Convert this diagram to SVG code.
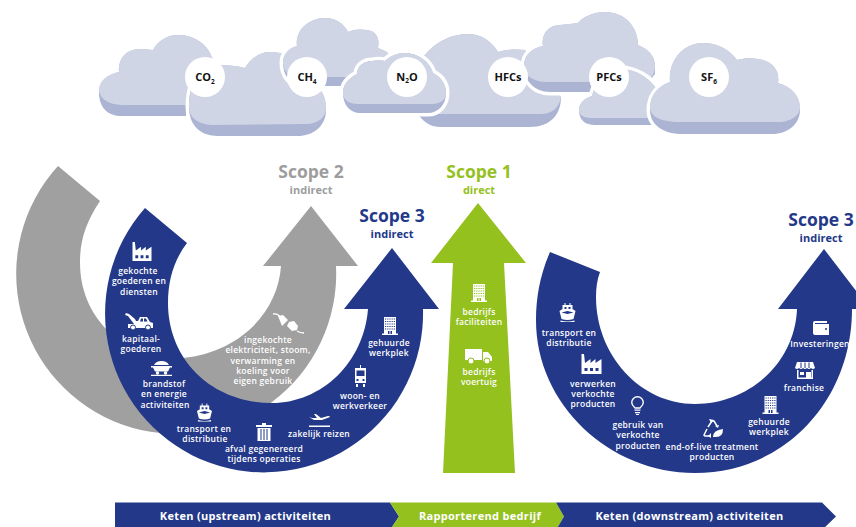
<svg xmlns="http://www.w3.org/2000/svg" width="856" height="527" viewBox="0 0 856 527">
<style>
text{font-family:"Open Sans","Noto Sans","DejaVu Sans",sans-serif;text-anchor:middle}
.l{font-size:8.500px;font-weight:600;fill:#fff;letter-spacing:.25px}
.g{font-size:11px;font-weight:700;fill:#111}
.sub{font-size:6.500px}
.sc{font-size:17.500px;font-weight:700}
.ind{font-size:11px;font-weight:700}
.bar{font-size:11px;font-weight:700;fill:#fff;letter-spacing:.32px}
.lt{fill:#d0d5e6}.dk{fill:#acb4d4}.halo{fill:#fff}
.i{color:#233889;fill:#fff}
.c{color:#95c11f}
.blue{fill:#233889}.green{fill:#95c11f}.grey{fill:#a0a0a0}
</style>
<defs>
<symbol id="factory" viewBox="0 0 20 20"><path fill="#fff" d="M0 20V0H2.500L3.500 9L9 5V9L14 5V9L20 5V20Z"/><path fill="currentColor" d="M3 14h3v3H3zM8.500 14h3v3h-3zM14 14h3v3h-3z"/></symbol>
<symbol id="building" viewBox="0 0 16 18"><path fill="#fff" d="M2 0H14V16.500H16V18H0V16.500H2Z"/><path fill="none" stroke="currentColor" stroke-width="1.100" stroke-dasharray="1.200 1" d="M3 2H13M3 4.500H13M3 7H13M3 9.500H13M3 12H13"/><path fill="currentColor" d="M6 14h1.500v3H6zM8.500 14h1.500v3H8.500z"/></symbol>
<symbol id="ship" viewBox="0 0 16 19"><path fill="#fff" d="M3 2h2V0h1v2h4V0h1v2h2V6L16 8 14 16Q8 18 2 16L0 8 3 6Z"/><path fill="#fff" d="M1 17.500Q8 19.500 15 17.500V19H1Z"/><path fill="currentColor" d="M5 4h2v2H5zM9 4h2v2H9zM8 8 2 9.500 8 11 14 9.500Z"/></symbol>
<symbol id="truck" viewBox="0 0 27 15"><path fill="#fff" d="M0 0H17V11H0ZM18 3H23L27 8V12H18Z"/><circle cx="6" cy="12" r="3" fill="#fff" stroke="currentColor"/><circle cx="22" cy="12" r="3" fill="#fff" stroke="currentColor"/></symbol>
<symbol id="tow" viewBox="0 0 28 17"><path fill="#fff" d="M1 0 4 1 10 6 11 8H13L15 4H22L25 9 28 10V15H3V11H9L3 3 0 2Z"/><circle cx="8" cy="14.500" r="2.500" fill="#fff" stroke="currentColor"/><circle cx="23" cy="14.500" r="2.500" fill="#fff" stroke="currentColor"/><path fill="currentColor" d="M16 5.500h2v3h-3zM19 5.500h2l1.500 3H19z"/></symbol>
<symbol id="coal" viewBox="0 0 21 15"><path fill="#fff" d="M3 4Q5 0 10.500 0T18 4ZM0 5H21V6.500H19L17 10.500H4L2 6.500H0ZM0 13.800H21V15H0Z"/><circle cx="6.500" cy="12" r="1.700" fill="#fff"/><circle cx="14.500" cy="12" r="1.700" fill="#fff"/></symbol>
<symbol id="trash" viewBox="0 0 16 18"><path fill="#fff" d="M6 0H10V2H16V4H0V2H6ZM1.500 5H14.500V18H1.500Z"/><path stroke="currentColor" fill="none" d="M5 6V17M8 6V17M11 6V17"/></symbol>
<symbol id="plane" viewBox="0 0 21 14"><path fill="#fff" d="M0 4 3 5 8 5 5 1H7L12 5 19 3Q21 3 21 4L13 7H5ZM0 12.500H21V14H0Z"/></symbol>
<symbol id="train" viewBox="0 0 13 22"><path fill="#fff" d="M1 3H12V18H1ZM6 0H7V3H6ZM2 19H4V22H2ZM9 19H11V22H9Z"/><path fill="currentColor" d="M2.500 5.500H10.500V11H2.500ZM2.500 14h2v2h-2zM8.500 14h2v2h-2z"/></symbol>
<symbol id="plug" viewBox="0 0 31 21"><path fill="none" stroke="#fff" stroke-width="1.300" d="M0 1Q5 0 7 4M24 18Q27 20 31 20"/><path fill="#fff" d="M5 3 10 2 15 7 9 13 7 8ZM16 9 14 13 19 18 24 17 25 13 21 8Z"/></symbol>
<symbol id="bulb" viewBox="0 0 13 19"><path fill="none" stroke="#fff" stroke-width="1.400" d="M4 12Q.7 9 .7 6.500A5.800 5.800 0 0 1 12.300 6.500Q12.300 9 9 12Z"/><path fill="#fff" d="M3.500 13.500h6v1.300h-6zM4 16h5v1.300H4zM5 18h3v1H5z"/></symbol>
<symbol id="recycle" viewBox="0 0 20 19"><path fill="none" stroke="#fff" stroke-width="1.500" d="M5 8 9 2H11L14 7M4 10 1 16 2 17H8"/><path fill="#fff" d="M6 0 11 1 8 4ZM12 7 16 6 15 9ZM8 14 8 19 5 17ZM10 18Q10 11 20 10 20 18 13 18Z"/></symbol>
<symbol id="shop" viewBox="0 0 20 17"><path fill="#fff" d="M2 0H18L20 6Q18 8 16 6 14 8 12 6 10 8 8 6 6 8 4 6 2 8 0 6ZM2 8H3.500V15.500H11V10H16V15.500H16.500V8H18V17H2Z"/><path fill="#fff" d="M5 10h4v3H5z"/><path stroke="currentColor" d="M6 .5V6M10 .5V6M14 .5V6"/></symbol>
<symbol id="wallet" viewBox="0 0 16 14"><path fill="#fff" d="M2 0H14V2H2V3H16V14H2Q0 14 0 12V2Q0 0 2 0Z"/><circle cx="13" cy="8" r="1" fill="currentColor"/></symbol>
</defs>

<g id="cloud-co2">
<path class="dk" d="M99 92C99 82 107 75 119 72C118 58 127 49 140 49C147 49 150 50 153 50C158 41 167 35 178 35C196 35 209 46 213 60L225 106H135C112 116 99 104 99 92Z"/>
<path class="lt" d="M99 90C99 81 107 74 119 72C118 58 127 49 140 49C147 49 150 50 153 50C158 41 167 35 178 35C196 35 209 46 213 60L225 105H122C108 105 99 100 99 90Z"/>
<path class="dk" d="M186 105V116H122C108 116 99 108 99 92C102 100 110 105 122 105Z"/>
</g>
<g id="cloud-co2b">
<path class="halo" stroke="#fff" stroke-width="7" d="M189 107C189 87 196 72 203 67C215 65 232 64 245 68C251 58 260 52 270 52C285 52 300 60 310 80C322 88 326 97 326 110C326 127 312 136 298 136H218C200 136 189 125 189 107Z"/>
<path class="dk" d="M189 107C189 87 196 72 203 67C215 65 232 64 245 68C251 58 260 52 270 52C285 52 300 60 310 80C322 88 326 97 326 110C326 127 312 136 298 136H218C200 136 189 125 189 107Z"/>
<path class="lt" d="M189 107C189 87 196 72 203 67C215 65 232 64 245 68C251 58 260 52 270 52C285 52 300 60 310 80C322 88 326 97 326 108C326 117 318 124 306 124L212 125C198 124 189 118 189 107Z"/>
</g>
<g id="cloud-ch4">
<path class="halo" stroke="#fff" stroke-width="7" d="M283 63C283 54 289 48 297 46C295 30 309 18 325 18C336 18 344 24 348 32C354 29 361 29 367 30C376 31 380 38 378 48L387 52L400 75L340 86H300C290 84 283 75 283 63Z"/>
<path class="dk" d="M283 63C283 54 289 48 297 46C295 30 309 18 325 18C336 18 344 24 348 32C354 29 361 29 367 30C376 31 380 38 378 48L387 52L400 75L340 86H300C290 84 283 75 283 63Z"/>
<path class="lt" d="M283 63C283 54 289 48 297 46C295 30 309 18 325 18C336 18 344 24 348 32C354 29 361 29 367 30C376 31 380 38 378 48L387 52L400 75L345 77H297C289 76 283 71 283 63Z"/>
</g>
<g id="cloud-hfc">
<path class="dk" d="M412 90C412 60 438 34 468 34C482 34 492 42 498 52C508 49 518 49 525 50L561 97C561 115 550 127 530 127H440C424 127 412 112 412 90Z"/>
<path class="lt" d="M412 90C412 60 438 34 468 34C482 34 492 42 498 52C508 49 518 49 525 50L561 97C559 108 552 114 540 114H425C416 110 412 100 412 90Z"/>
</g>
<g id="cloud-n2o">
<path class="halo" stroke="#fff" stroke-width="7" d="M343 93C343 84 349 78 357 74C357 66 364 61 372 61C377 60 381 60 385 61C390 56 397 53 405 53C418 53 430 62 433 73C441 77 446 84 446 93C446 105 438 113 428 113H360C350 113 343 105 343 93Z"/>
<path class="dk" d="M343 93C343 84 349 78 357 74C357 66 364 61 372 61C377 60 381 60 385 61C390 56 397 53 405 53C418 53 430 62 433 73C441 77 446 84 446 93C446 105 438 113 428 113H360C350 113 343 105 343 93Z"/>
<path class="lt" d="M343 93C343 84 349 78 357 74C357 66 364 61 372 61C377 60 381 60 385 61C390 56 397 53 405 53C418 53 430 62 433 73C441 77 446 84 446 93C446 100 440 104 432 104H358C349 104 343 100 343 93Z"/>
</g>
<g id="cloud-pfc-top">
<path class="halo" stroke="#fff" stroke-width="7" d="M524 66C524 55 532 48 543 46C541 34 549 25 560 25C567 24 573 24 578 23C584 16 594 12 605 12C625 12 638 27 638 45C648 49 655 56 655 66V74L640 92H550C534 92 524 80 524 66Z"/>
<path class="dk" d="M524 66C524 55 532 48 543 46C541 34 549 25 560 25C567 24 573 24 578 23C584 16 594 12 605 12C625 12 638 27 638 45C648 49 655 56 655 66V74L640 92H550C534 92 524 80 524 66Z"/>
<path class="lt" d="M524 66C524 55 532 48 543 46C541 34 549 25 560 25C567 24 573 24 578 23C584 16 594 12 605 12C625 12 638 27 638 45C648 49 655 56 655 66C655 74 650 82 640 82H548C534 82 524 76 524 66Z"/>
</g>
<g id="cloud-pfc-low">
<path class="halo" stroke="#fff" stroke-width="7" d="M579 110C579 103 585 98 592 96L600 70C612 67 625 68 633 71C645 75 655 84 660 95V125H595C585 125 579 120 579 110Z"/>
<path class="dk" d="M579 110C579 103 585 98 592 96L600 70C612 67 625 68 633 71C645 75 655 84 660 95V125H595C585 125 579 120 579 110Z"/>
<path class="lt" d="M579 110C579 103 585 98 592 96L600 70C612 67 625 68 633 71C645 75 655 84 660 95V118H592C585 118 579 116 579 110Z"/>
</g>
<g id="cloud-sf6">
<path class="halo" stroke="#fff" stroke-width="7" d="M650 110C650 96 658 86 670 82C668 60 684 43 703 43C718 43 730 50 737 60C745 58 751 58 758 59C772 61 780 70 778 83C792 87 800 96 800 110C800 124 788 134 772 134H682C662 134 650 124 650 110Z"/>
<path class="dk" d="M650 110C650 96 658 86 670 82C668 60 684 43 703 43C718 43 730 50 737 60C745 58 751 58 758 59C772 61 780 70 778 83C792 87 800 96 800 110C800 124 788 134 772 134H682C662 134 650 124 650 110Z"/>
<path class="lt" d="M650 107C650 95 658 86 670 82C668 60 684 43 703 43C718 43 730 50 737 60C745 58 751 58 758 59C772 61 780 70 778 83C792 87 800 96 800 107C800 116 790 122 778 122H680C662 122 650 117 650 107Z"/>
</g>
<g id="gas-co2"><circle class="halo" cx="205" cy="77" r="20"/><text class="g" x="205" y="81">CO<tspan class="sub" dy="3">2</tspan></text></g>
<g id="gas-ch4"><circle class="halo" cx="307" cy="77" r="20"/><text class="g" x="307" y="81">CH<tspan class="sub" dy="3">4</tspan></text></g>
<g id="gas-n2o"><circle class="halo" cx="407" cy="77" r="20"/><text class="g" x="407" y="81">N<tspan class="sub" dy="2">2</tspan><tspan dy="-2">O</tspan></text></g>
<g id="gas-hfcs"><circle class="halo" cx="508" cy="77" r="20"/><text class="g" x="508" y="81">HFCs</text></g>
<g id="gas-pfcs"><circle class="halo" cx="609" cy="77" r="20"/><text class="g" x="609" y="81">PFCs</text></g>
<g id="gas-sf6"><circle class="halo" cx="709" cy="77" r="20"/><text class="g" x="709" y="81">SF<tspan class="sub" dy="3">6</tspan></text></g>

<g id="connectors">
<path id="arrow-scope2" class="grey" d="M58 166A160 160 0 1 0 336 266H358L311 206 263 266H281C278 312 240 352 183 358C150 360 125 348 107 330C90 312 80 290 80 262C80 240 86 222 100 201Z"/>
<path id="arrow-scope3-up" class="blue" d="M145 208A159 159 0 1 0 423 309H439L392 248 344 309H368C364 362 322 403 272 403C212 403 168 360 168 303C168 280 174 260 187 243Z"/>
<path id="arrow-scope1" class="green" d="M443 473 453 263H431L478 203 526 263H504L515 473Z"/>
<path id="arrow-scope3-down" class="blue" d="M550 252C540 275 536 298 536 320C536 405 610 473 695 473C785 473 852 400 852 309H870L824 249 778 309H797C795 362 750 404 695 404C640 404 596 355 596 297C596 288 597 280 600 272Z"/>
</g>

<g id="bars">
<path class="blue" d="M115 502.500H390L399 516.500 390 530H115Z"/>
<path class="green" d="M390 502.500H556L564 516.500 556 530H390L399 516.500Z"/>
<path class="blue" d="M556 502.500H822L836 516.500 822 530H556L564 516.500Z"/>
<text class="bar" x="245.500" y="520">Keten (upstream) activiteiten</text>
<text class="bar" x="480" y="520">Rapporterend bedrijf</text>
<text class="bar" x="689.500" y="520">Keten (downstream) activiteiten</text>
</g>

<g id="scope-labels">
<text class="sc" x="311" y="178" style="fill:#9d9d9d">Scope 2</text><text class="ind" x="311" y="194" style="fill:#9d9d9d">indirect</text>
<text class="sc" x="392" y="222" style="fill:#233889">Scope 3</text><text class="ind" x="392" y="238" style="fill:#233889">indirect</text>
<text class="sc" x="479" y="178" style="fill:#95c11f">Scope 1</text><text class="ind" x="479" y="194" style="fill:#95c11f">direct</text>
<text class="sc" x="821" y="226" style="fill:#233889">Scope 3</text><text class="ind" x="821" y="242" style="fill:#233889">indirect</text>
</g>

<g id="n-gekochte" class="i"><use href="#factory" x="132" y="242" width="20" height="19"/><text class="l"><tspan x="138" y="274">gekochte</tspan><tspan x="139" y="284">goederen en</tspan><tspan x="139" y="295">diensten</tspan></text></g>
<g id="n-kapitaal" class="i"><use href="#tow" x="125" y="313" width="28" height="17"/><text class="l"><tspan x="141" y="342">kapitaal-</tspan><tspan x="141" y="352">goederen</tspan></text></g>
<g id="n-brandstof" class="i"><use href="#coal" x="151" y="361" width="21" height="15"/><text class="l"><tspan x="164" y="387">brandstof</tspan><tspan x="164" y="397">en energie</tspan><tspan x="165" y="408">activiteiten</tspan></text></g>
<g id="n-transport" class="i"><use href="#ship" x="197" y="403" width="15" height="19"/><text class="l"><tspan x="204" y="432">transport en</tspan><tspan x="205" y="442">distributie</tspan></text></g>
<g id="n-afval" class="i"><use href="#trash" x="256" y="423" width="16" height="18"/><text class="l"><tspan x="264" y="452">afval gegenereerd</tspan><tspan x="264" y="462">tijdens operaties</tspan></text></g>
<g id="n-zakelijk" class="i"><use href="#plane" x="309" y="413" width="21" height="14"/><text class="l" x="319" y="437">zakelijk reizen</text></g>
<g id="n-woon" class="i"><use href="#train" x="354" y="365" width="13" height="22"/><text class="l"><tspan x="360" y="399">woon- en</tspan><tspan x="360" y="409">werkverkeer</tspan></text></g>
<g id="n-werkplek-up" class="i"><use href="#building" x="382" y="317" width="16" height="18"/><text class="l"><tspan x="389" y="346">gehuurde</tspan><tspan x="389" y="356">werkplek</tspan></text></g>
<g id="n-ingekochte" class="i"><use href="#plug" x="273" y="313" width="31" height="21"/><text class="l"><tspan x="268" y="343">ingekochte</tspan><tspan x="268" y="353">elektriciteit, stoom,</tspan><tspan x="263" y="364">verwarming en</tspan><tspan x="263" y="374">koeling voor</tspan><tspan x="263" y="384">eigen gebruik</tspan></text></g>
<g id="n-faciliteiten" class="i c"><use href="#building" x="471" y="284" width="16" height="18"/><text class="l"><tspan x="479" y="315">bedrijfs</tspan><tspan x="479" y="325">faciliteiten</tspan></text></g>
<g id="n-voertuig" class="i c"><use href="#truck" x="465" y="349" width="27" height="15"/><text class="l"><tspan x="479" y="375">bedrijfs</tspan><tspan x="479" y="385">voertuig</tspan></text></g>
<g id="n-transport-down" class="i"><use href="#ship" x="559" y="303" width="17" height="19"/><text class="l"><tspan x="569" y="336">transport en</tspan><tspan x="569" y="346">distributie</tspan></text></g>
<g id="n-verwerken" class="i"><use href="#factory" x="581" y="354" width="21" height="20"/><text class="l"><tspan x="593" y="387">verwerken</tspan><tspan x="593" y="397">verkochte</tspan><tspan x="593" y="407">producten</tspan></text></g>
<g id="n-gebruik" class="i"><use href="#bulb" x="631" y="396" width="13" height="19"/><text class="l"><tspan x="638" y="428">gebruik van</tspan><tspan x="638" y="438">verkochte</tspan><tspan x="638" y="449">producten</tspan></text></g>
<g id="n-eol" class="i"><use href="#recycle" x="703" y="419" width="20" height="19"/><text class="l"><tspan x="712" y="450">end-of-live treatment</tspan><tspan x="712" y="460">producten</tspan></text></g>
<g id="n-werkplek-down" class="i"><use href="#building" x="762" y="396" width="17" height="18"/><text class="l"><tspan x="769" y="425">gehuurde</tspan><tspan x="769" y="435">werkplek</tspan></text></g>
<g id="n-franchise" class="i"><use href="#shop" x="795" y="362" width="20" height="17"/><text class="l" x="804" y="391">franchise</text></g>
<g id="n-investeringen" class="i"><use href="#wallet" x="813" y="321" width="16" height="14"/><text class="l" x="820" y="347">Investeringen</text></g>
</svg>
